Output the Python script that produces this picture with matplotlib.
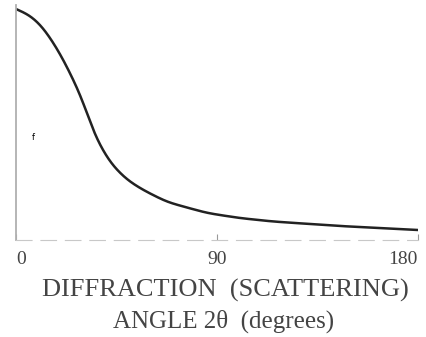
import matplotlib
matplotlib.use('Agg')
import matplotlib.pyplot as plt
import numpy as np

# scattering factor curve (angle in degrees, relative f)
angle = [0, 6.3, 12.1, 19.7, 27.3, 30.5, 34.5, 42.1, 49.7, 56.9, 67.6, 85.5, 100, 115, 145, 180]
f_val = [231, 225, 213, 187, 153, 137, 107, 77, 60, 50, 38, 27, 22, 18.5, 14, 10]
xticks = [0, 90, 180]
xtick_labels = ['0', '90', '180']

plt.rcParams['font.family'] = ['Liberation Serif', 'DejaVu Serif']

fig = plt.figure(figsize=(4.27, 3.37), dpi=100)
ax = fig.add_axes([16 / 427, 97 / 337, 402 / 427, 235 / 337])

# smooth the hand-read points a little for drawing
xs = np.linspace(0, 180, 721)
ys = np.interp(xs, angle, f_val)
t = np.arange(-40, 41) * 0.25
k = np.exp(-0.5 * (t / 3.0) ** 2)
k /= k.sum()
ys_s = np.convolve(np.pad(ys, 40, mode='reflect', reflect_type='odd'), k, mode='valid')
ax.plot(xs, ys_s, color='#222222', lw=1.8, solid_capstyle='round')

ax.set_xlim(0, 180)
ax.set_ylim(0, 235)

for s in ['top', 'right']:
    ax.spines[s].set_visible(False)
ax.spines['left'].set_color('#b0b0b0')
ax.spines['left'].set_linewidth(1.3)
ax.spines['bottom'].set_color('#c8c8c8')
ax.spines['bottom'].set_linewidth(0.8)
ax.spines['bottom'].set_linestyle((0, (14, 8)))

ax.set_yticks([])
ax.set_xticks(xticks)
ax.set_xticklabels(xtick_labels, fontsize=14, color='#444444')
ax.tick_params(axis='x', direction='in', length=4, color='#999999', pad=8)
labels = ax.get_xticklabels()
labels[0].set_ha('left')
labels[-1].set_ha('right')

ax.text(7, 100, 'f', fontsize=6, family='DejaVu Sans', color='black')

fig.text(225 / 427, 1 - 290 / 337, 'DIFFRACTION  (SCATTERING)', fontsize=19,
         color='#444444', ha='center', va='center')
fig.text(224 / 427, 1 - 321 / 337, 'ANGLE 2θ  (degrees)', fontsize=18,
         color='#444444', ha='center', va='center')

fig.savefig('out.png', dpi=100)
